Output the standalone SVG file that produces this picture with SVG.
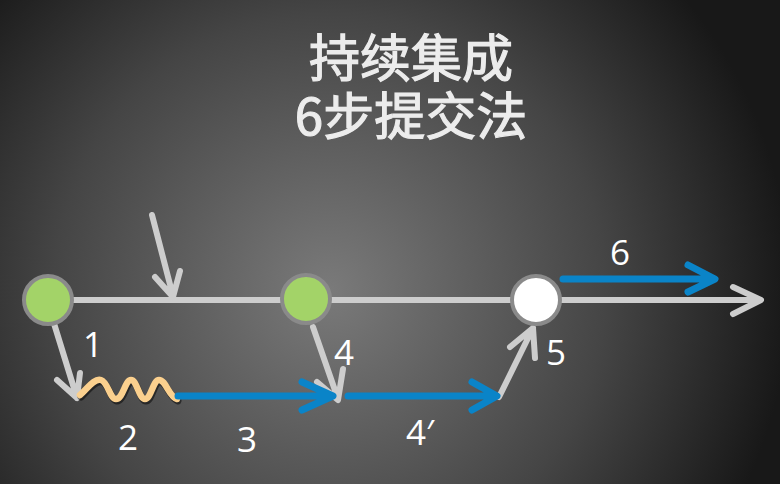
<svg xmlns="http://www.w3.org/2000/svg" width="780" height="484" viewBox="0 0 780 484">
<defs>
<radialGradient id="bg" gradientUnits="userSpaceOnUse" cx="330" cy="290" r="460">
<stop offset="0" stop-color="#7a7a7a"/>
<stop offset="0.6" stop-color="#454545"/>
<stop offset="1" stop-color="#181818"/>
</radialGradient>
<style>
.title{font-family:"Noto Sans CJK SC","Noto Sans",sans-serif;font-size:51px;fill:#ececec;stroke:#ececec;stroke-width:1.2;text-anchor:middle}
.lbl{font-family:"Open Sans","Noto Sans","Liberation Sans",sans-serif;font-size:35px;fill:#ffffff;text-anchor:middle}
.g{stroke:#cdcdcd;stroke-width:6;fill:none;stroke-linecap:round;stroke-linejoin:round}
.b{stroke:#0a84c8;stroke-width:7;fill:none;stroke-linecap:round;stroke-linejoin:round}
.node{stroke:#8a8a8a;stroke-width:4}
</style>
</defs>
<rect width="780" height="484" fill="url(#bg)"/>
<g id="title">
<text class="title" x="411" y="77">持续集成</text>
<text class="title" x="411" y="135">6步提交法</text>
</g>
<g id="connectors">
<path class="g" d="M48 300 H760 M733 287 L761 300 L733 314"/>
<path class="g" d="M152 215 L173 296 M155 277 L173 297 L180 271"/>
<path class="g" d="M52 317 L77 398 M57 380 L77 398 L80 373"/>
<path class="g" d="M313 327 L338 399 M317 382 L338 400 L343 369"/>
<path class="g" d="M499 397 L533 328 M510 347 L533 328 L535 358"/>
<path d="M80 395 C88 388 94 378 101 380 C108 382 110 399 116 399 C123 399 125 380 131 380 C137 380 139 399 145 399 C151 399 153 380 159 380 C166 380 169 397 177 399" fill="none" stroke="#000" stroke-opacity="0.5" stroke-width="7" transform="translate(1,2)" stroke-linecap="round"/>
<path d="M80 395 C88 388 94 378 101 380 C108 382 110 399 116 399 C123 399 125 380 131 380 C137 380 139 399 145 399 C151 399 153 380 159 380 C166 380 169 397 177 399" fill="none" stroke="#fbd08e" stroke-width="6.5" stroke-linecap="round"/>
<path class="b" d="M178 396 H332 M302 382 L333 396 L302 410"/>
<path class="b" d="M348 396 H496 M472 382 L497 396 L472 410"/>
<path class="b" d="M563 279 H714 M688 265 L715 279 L688 292"/>
</g>
<g id="node1"><circle class="node" cx="48" cy="300" r="24" fill="#a3d368"/></g>
<g id="node2"><circle class="node" cx="306" cy="299" r="24" fill="#a3d368"/></g>
<g id="node3"><circle class="node" cx="536" cy="300" r="24" fill="#ffffff"/></g>
<g id="labels">
<text class="lbl" x="93" y="357">1</text>
<text class="lbl" x="128" y="450">2</text>
<text class="lbl" x="247" y="452">3</text>
<text class="lbl" x="344" y="365">4</text>
<text class="lbl" x="420" y="445">4′</text>
<text class="lbl" x="556" y="365">5</text>
<text class="lbl" x="620" y="265">6</text>
</g>
</svg>
